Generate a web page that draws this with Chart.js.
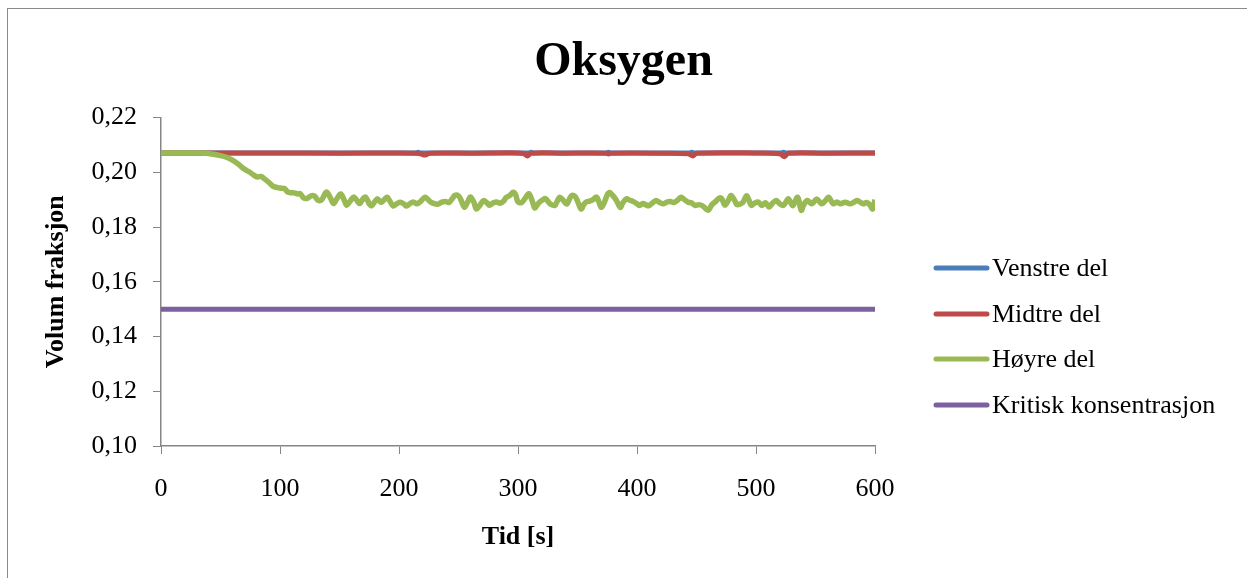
<!DOCTYPE html>
<html>
<head>
<meta charset="utf-8">
<script src="https://cdn.jsdelivr.net/npm/chart.js@4/dist/chart.umd.min.js"></script>
<style>
  html, body { margin: 0; padding: 0; background: #fff; }
  #wrap { width: 1247px; height: 578px; }
</style>
</head>
<body>
<div id="wrap"><canvas id="c" width="1247" height="578"></canvas></div>
<script>
// Series labels
const seriesNames = ['Venstre del', 'Midtre del', 'Høyre del', 'Kritisk konsentrasjon'];

// Venstre del (time [s], volume fraction)
const venstreTid   = [0, 100, 200, 214, 216, 218, 300, 309, 311, 313, 374, 376, 378, 444, 446, 448, 521, 523, 525, 600];
const venstreVerdi = [0.2071, 0.2071, 0.2071, 0.2071, 0.2073, 0.2071, 0.2071, 0.2071, 0.2073, 0.2071, 0.2071, 0.2073, 0.2071, 0.2071, 0.2073, 0.2071, 0.2071, 0.2073, 0.2071, 0.2071];

// Midtre del
const midtreTid   = [0, 100, 150, 200, 214, 218, 222, 226, 260, 300, 305, 308, 311, 340, 374, 376, 378, 420, 443, 447, 450, 500, 520, 524, 527, 560, 600];
const midtreVerdi = [0.2071, 0.2071, 0.2070, 0.2071, 0.2070, 0.2068, 0.2063, 0.2070, 0.2070, 0.2071, 0.2068, 0.2060, 0.2070, 0.2070, 0.2070, 0.2067, 0.2070, 0.2070, 0.2068, 0.2060, 0.2070, 0.2071, 0.2068, 0.2057, 0.2070, 0.2070, 0.2071];

// Høyre del
const hoyreTid = [
  0, 10, 20, 30, 38, 44, 50, 55, 60, 65, 69, 74, 78, 81, 84, 87, 91, 94, 98, 101,
  104, 106, 108, 112, 115, 117, 120, 123, 126, 129, 132, 135, 139, 142, 145, 148, 151, 154, 156, 159,
  162, 165, 167, 170, 172, 175, 177, 180, 182, 185, 188, 190, 193, 195, 198, 201, 204, 206, 209, 212,
  215, 218, 222, 225, 227, 230, 233, 236, 239, 242, 245, 247, 250, 252, 255, 258, 260, 263, 265, 268,
  271, 274, 276, 279, 282, 285, 288, 290, 293, 296, 298, 300, 303, 306, 309, 312, 314, 316, 318, 321,
  323, 325, 327, 331, 333, 335, 338, 341, 343, 345, 348, 350, 353, 355, 357, 360, 363, 366, 368, 370,
  373, 375, 377, 379, 381, 383, 386, 388, 391, 394, 397, 400, 402, 405, 408, 410, 413, 416, 419, 422,
  425, 428, 431, 434, 437, 440, 443, 446, 449, 452, 455, 458, 460, 463, 466, 469, 471, 474, 477, 479,
  482, 484, 487, 489, 492, 494, 496, 499, 502, 505, 508, 511, 514, 517, 520, 523, 527, 529, 531, 535,
  538, 540, 543, 547, 551, 555, 558, 561, 565, 568, 571, 575, 579, 582, 585, 590, 593, 596, 598, 600
];
const hoyreVerdi = [
  0.2071, 0.2071, 0.2071, 0.2071, 0.2070, 0.2066, 0.2061, 0.2055, 0.2045, 0.2030, 0.2015, 0.2002, 0.1990, 0.1983, 0.1985, 0.1976, 0.1962, 0.1950, 0.1944, 0.1942,
  0.1940, 0.1930, 0.1926, 0.1925, 0.1921, 0.1922, 0.1906, 0.1905, 0.1914, 0.1913, 0.1898, 0.1900, 0.1928, 0.1910, 0.1886, 0.1905, 0.1921, 0.1898, 0.1880, 0.1895,
  0.1910, 0.1895, 0.1886, 0.1905, 0.1909, 0.1885, 0.1878, 0.1895, 0.1903, 0.1890, 0.1902, 0.1909, 0.1890, 0.1877, 0.1885, 0.1891, 0.1885, 0.1877, 0.1885, 0.1892,
  0.1885, 0.1893, 0.1909, 0.1898, 0.1890, 0.1885, 0.1884, 0.1891, 0.1893, 0.1890, 0.1905, 0.1916, 0.1914, 0.1900, 0.1872, 0.1895, 0.1910, 0.1890, 0.1866, 0.1880,
  0.1897, 0.1888, 0.1880, 0.1888, 0.1892, 0.1887, 0.1895, 0.1908, 0.1915, 0.1927, 0.1918, 0.1892, 0.1890, 0.1905, 0.1922, 0.1895, 0.1870, 0.1880, 0.1891, 0.1900,
  0.1904, 0.1895, 0.1885, 0.1879, 0.1895, 0.1909, 0.1898, 0.1884, 0.1900, 0.1915, 0.1912, 0.1895, 0.1866, 0.1880, 0.1891, 0.1895, 0.1900, 0.1910, 0.1892, 0.1872,
  0.1895, 0.1918, 0.1926, 0.1918, 0.1908, 0.1895, 0.1872, 0.1888, 0.1903, 0.1898, 0.1893, 0.1885, 0.1879, 0.1886, 0.1880, 0.1878, 0.1888, 0.1897, 0.1890, 0.1885,
  0.1891, 0.1893, 0.1890, 0.1898, 0.1909, 0.1900, 0.1891, 0.1888, 0.1879, 0.1882, 0.1878, 0.1866, 0.1862, 0.1882, 0.1893, 0.1906, 0.1905, 0.1880, 0.1900, 0.1915,
  0.1898, 0.1882, 0.1885, 0.1890, 0.1914, 0.1900, 0.1879, 0.1888, 0.1891, 0.1879, 0.1889, 0.1873, 0.1888, 0.1897, 0.1885, 0.1879, 0.1903, 0.1890, 0.1879, 0.1909,
  0.1861, 0.1880, 0.1897, 0.1885, 0.1903, 0.1885, 0.1895, 0.1909, 0.1885, 0.1892, 0.1885, 0.1891, 0.1885, 0.1890, 0.1897, 0.1885, 0.1890, 0.1879, 0.1866, 0.1900
];

// Kritisk konsentrasjon
const kritiskTid   = [0, 600];
const kritiskVerdi = [0.15, 0.15];

// Axis ranges and tick steps
const xRange = [0, 600];
const xStep = 100;
const yRange = [0.10, 0.22];
const yStep = 0.02;

const seriesColors = ['#4A7EBB', '#BE4B48', '#98B954', '#7D60A0'];

const toPoints = (ts, vs) => ts.map((t, i) => ({ x: t, y: vs[i] }));

const serif = 'Liberation Serif, "Times New Roman", serif';
const axisGrey = '#868686';

// Grey frame around the whole chart
const framePlugin = {
  id: 'frame',
  beforeDraw(chart) {
    const ctx = chart.ctx;
    ctx.save();
    ctx.fillStyle = '#fff';
    ctx.fillRect(0, 0, chart.width, chart.height);
    ctx.strokeStyle = '#8a8a8a';
    ctx.lineWidth = 1;
    ctx.strokeRect(7.5, 8.5, 1260, 600);
    ctx.restore();
  }
};

// Legend on the right: short thick line plus label per series
const sideLegend = {
  id: 'sideLegend',
  afterDraw(chart) {
    const ctx = chart.ctx;
    const rows = [268, 314, 359, 405];
    ctx.save();
    chart.data.datasets.forEach((ds, i) => {
      const y = rows[i];
      ctx.strokeStyle = ds.borderColor;
      ctx.lineWidth = 5;
      ctx.lineCap = 'round';
      ctx.beginPath();
      ctx.moveTo(936, y);
      ctx.lineTo(987, y);
      ctx.stroke();
      ctx.fillStyle = '#000';
      ctx.font = '26px ' + serif;
      ctx.textAlign = 'left';
      ctx.textBaseline = 'middle';
      ctx.fillText(ds.label, 992, y + 1);
    });
    ctx.restore();
  }
};

const mkSet = (i, pts, width, order) => ({
  label: seriesNames[i],
  data: pts,
  borderColor: seriesColors[i],
  backgroundColor: seriesColors[i],
  borderWidth: width,
  pointRadius: 0,
  tension: 0.35,
  fill: false,
  order: order
});

new Chart(document.getElementById('c'), {
  type: 'line',
  data: {
    datasets: [
      mkSet(0, toPoints(venstreTid, venstreVerdi), 5, 2),
      mkSet(1, toPoints(midtreTid, midtreVerdi), 5, 1),
      mkSet(2, toPoints(hoyreTid, hoyreVerdi), 5.5, 0),
      mkSet(3, toPoints(kritiskTid, kritiskVerdi), 5, 3)
    ]
  },
  options: {
    responsive: false,
    animation: false,
    layout: { padding: { left: 0, right: 0, top: 34, bottom: 0 } },
    plugins: {
      legend: { display: false },
      tooltip: { enabled: false },
      title: {
        display: true,
        text: 'Oksygen',
        color: '#000',
        font: { family: serif, size: 48, weight: 'bold' },
        padding: { top: 0, bottom: 26 }
      }
    },
    scales: {
      x: {
        type: 'linear',
        min: xRange[0],
        max: xRange[1],
        ticks: {
          stepSize: xStep,
          color: '#000',
          font: { family: serif, size: 26 },
          padding: 20,
          maxRotation: 0
        },
        grid: { drawOnChartArea: false, drawTicks: true, tickLength: 8, color: axisGrey, lineWidth: 1 },
        border: { color: axisGrey, width: 1.5 },
        title: {
          display: true,
          text: 'Tid [s]',
          color: '#000',
          font: { family: serif, size: 26, weight: 'bold' },
          padding: { top: 0, bottom: 25 }
        },
        afterFit(scale) { scale.height = 132; }
      },
      y: {
        type: 'linear',
        min: yRange[0],
        max: yRange[1],
        ticks: {
          stepSize: yStep,
          color: '#000',
          font: { family: serif, size: 26 },
          padding: 16,
          callback: (v) => v.toFixed(2).replace('.', ',')
        },
        grid: { drawOnChartArea: false, drawTicks: true, tickLength: 8, color: axisGrey, lineWidth: 1 },
        border: { color: axisGrey, width: 1.5 },
        title: {
          display: true,
          text: 'Volum fraksjon',
          color: '#000',
          font: { family: serif, size: 26, weight: 'bold' },
          padding: { top: 41, bottom: 0 }
        },
        afterFit(scale) { scale.width = 161; }
      },
      // empty right-hand band that holds the legend
      side: {
        type: 'linear',
        position: 'right',
        display: true,
        min: 0,
        max: 1,
        grid: { display: false, drawTicks: false },
        ticks: { display: false },
        border: { display: false },
        afterFit(scale) { scale.width = 372; }
      }
    }
  },
  plugins: [framePlugin, sideLegend]
});
</script>
</body>
</html>
